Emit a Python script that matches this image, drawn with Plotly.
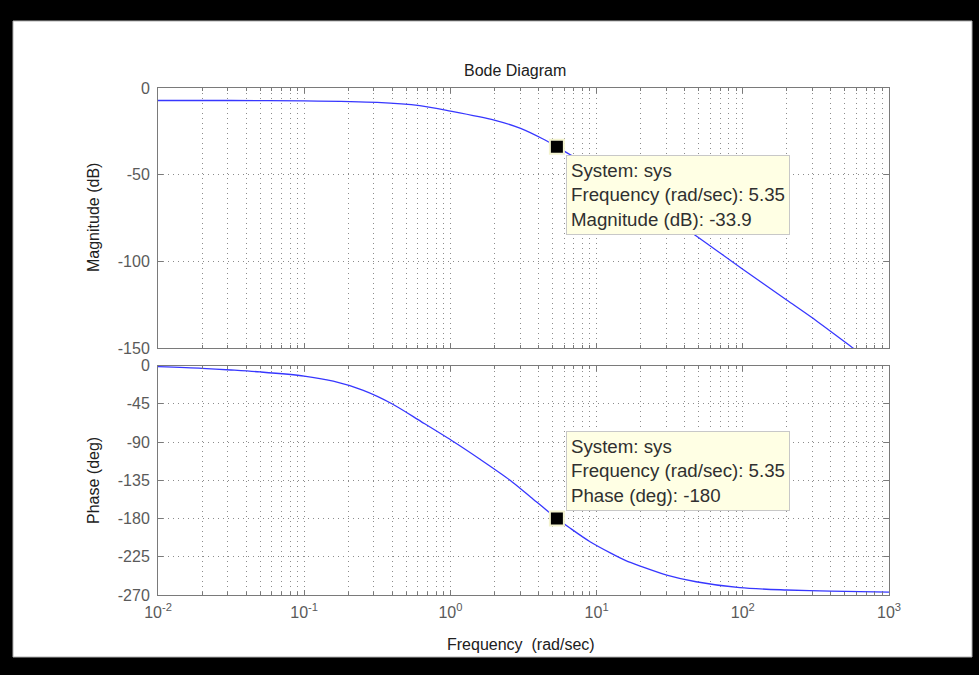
import math
import plotly.graph_objects as go

# ---- data ----
freq = [0.01, 0.0316, 0.1, 0.316, 0.617, 1.0, 1.995, 3.02, 4.27, 5.35, 6.61,
        10.0, 15.85, 25.12, 44.67, 97.72, 199.5, 295.1, 562.3, 1000.0]
mag_db = [-7.2, -7.2, -7.4, -8.3, -10.2, -13.3, -18.5, -23.3, -29.3, -33.9, -38.5,
          -47.0, -58.0, -69.5, -83.5, -104.0, -122.3, -132.3, -149.8, -165.0]

freq_ph = [0.01, 0.02, 0.0316, 0.05, 0.1, 0.158, 0.251, 0.398, 0.631, 1.059,
           1.585, 2.56, 3.548, 5.35, 6.61, 9.02, 12.59, 15.85, 19.95, 30.2,
           47.9, 95.5, 199.5, 398.0, 1000.0]
phase_deg = [-1.4, -3.3, -5.3, -7.6, -12.4, -18.5, -29.0, -45.0, -66.0, -90.0,
             -110.0, -135.0, -155.0, -180.0, -191.5, -207.3, -221.0, -229.5, -236.0, -246.5,
             -254.4, -261.4, -264.1, -265.5, -266.6]

tip_freq = 5.35
tip_mag = -33.9
tip_phase = -180

mag_ticks = [0, -50, -100, -150]
mag_tick_text = ["0", "-50", "-100", "-150"]
phase_ticks = [0, -45, -90, -135, -180, -225, -270]
phase_tick_text = ["0", "-45", "-90", "-135", "-180", "-225", "-270"]
x_major = [0.01, 0.1, 1, 10, 100, 1000]
x_major_text = ["10<sup>-2</sup>", "10<sup>-1</sup>", "10<sup>0</sup>",
                "10<sup>1</sup>", "10<sup>2</sup>", "10<sup>3</sup>"]
x_minor = [d * k for d in [0.01, 0.1, 1, 10, 100] for k in range(2, 10)]

# ---- styling ----
W, H = 979, 675
ML, MR, MT, MB = 158, 90, 88, 80
PW, PH = W - ML - MR, H - MT - MB
def px_x(p):
    return (p - ML) / PW
def px_y(p):
    return (H - MB - p) / PH

LINE = "rgb(55,55,255)"
AXC = "#7a7a7a"
GRIDC = "#8c8c8c"
DOT = "1px,4px"
FONT = "Liberation Sans, Arial, sans-serif"
TICKF = dict(family=FONT, size=16, color="#5a5a5a")

fig = go.Figure()
fig.add_trace(go.Scatter(x=freq, y=mag_db, mode="lines",
                         line=dict(color=LINE, width=1.3, shape="spline", smoothing=0.8),
                         xaxis="x", yaxis="y", showlegend=False, hoverinfo="skip"))
fig.add_trace(go.Scatter(x=freq_ph, y=phase_deg, mode="lines",
                         line=dict(color=LINE, width=1.3, shape="spline", smoothing=0.8),
                         xaxis="x2", yaxis="y2", showlegend=False, hoverinfo="skip"))
tip_marker = dict(symbol="square", size=14, color="black", line=dict(color="#f3f3cf", width=2))
fig.add_trace(go.Scatter(x=[tip_freq], y=[tip_mag], mode="markers", marker=tip_marker,
                         xaxis="x", yaxis="y", showlegend=False, hoverinfo="skip"))
fig.add_trace(go.Scatter(x=[tip_freq], y=[tip_phase], mode="markers", marker=tip_marker,
                         xaxis="x2", yaxis="y2", showlegend=False, hoverinfo="skip"))

xcommon = dict(type="log", range=[-2, 3], ticks="inside", ticklen=5, tickcolor=AXC,
               showline=True, linecolor=AXC, linewidth=1, mirror="ticks",
               showgrid=True, gridcolor=GRIDC, griddash=DOT, gridwidth=1, zeroline=False,
               tickmode="array", tickvals=x_major, ticktext=x_major_text, tickfont=TICKF,
               minor=dict(tickmode="array", tickvals=x_minor, ticks="inside", ticklen=3, tickcolor=AXC,
                          showgrid=True, gridcolor=GRIDC, griddash=DOT, gridwidth=1))
ycommon = dict(ticks="inside", ticklen=5, tickcolor=AXC, showline=True, linecolor=AXC, linewidth=1,
               mirror="ticks", showgrid=True, gridcolor=GRIDC, griddash=DOT, gridwidth=1,
               zeroline=False, tickfont=TICKF, ticklabelstandoff=4, tickmode="array")

top_dom = [px_y(348), 1.0]
bot_dom = [0.0, px_y(365.5)]

fig.update_layout(
    width=W, height=H,
    margin=dict(l=ML, r=MR, t=MT, b=MB),
    paper_bgcolor="black", plot_bgcolor="white",
    xaxis=dict(xcommon, anchor="y", showticklabels=False),
    yaxis=dict(ycommon, domain=top_dom, range=[-150, 0], tickvals=mag_ticks,
               ticktext=mag_tick_text, anchor="x"),
    xaxis2=dict(xcommon, anchor="y2", matches="x", ticklabelstandoff=3),
    yaxis2=dict(ycommon, domain=bot_dom, range=[-270, 0], tickvals=phase_ticks,
                ticktext=phase_tick_text, anchor="x2"),
    shapes=[dict(type="rect", xref="paper", yref="paper", layer="below",
                 x0=px_x(13), x1=px_x(972), y0=px_y(657), y1=px_y(21),
                 fillcolor="white", line=dict(color="#b0b0b0", width=1))],
)

TIPF = dict(family=FONT, size=18.7, color="#303030")
LBLF = dict(family=FONT, size=16, color="#202020")
fig.add_annotation(text="Bode Diagram", xref="paper", yref="paper", x=px_x(515), y=px_y(70),
                   showarrow=False, font=LBLF, xanchor="center", yanchor="middle")
fig.add_annotation(text="Magnitude (dB)", xref="paper", yref="paper", x=px_x(93), y=px_y(218),
                   showarrow=False, font=LBLF, textangle=-90, xanchor="center", yanchor="middle")
fig.add_annotation(text="Phase (deg)", xref="paper", yref="paper", x=px_x(93), y=px_y(481),
                   showarrow=False, font=LBLF, textangle=-90, xanchor="center", yanchor="middle")
fig.add_annotation(text="Frequency  (rad/sec)", xref="paper", yref="paper", x=px_x(521), y=px_y(644),
                   showarrow=False, font=LBLF, xanchor="center", yanchor="middle")

fig.add_annotation(text="System: sys<br>Frequency (rad/sec): %g<br>Magnitude (dB): %g" % (tip_freq, tip_mag),
                   xref="x", yref="y", x=math.log10(tip_freq), y=tip_mag, showarrow=False,
                   xanchor="left", yanchor="top", xshift=9, yshift=-8, align="left",
                   bgcolor="#ffffe4", bordercolor="#c8c8c8", borderwidth=1, borderpad=4, font=TIPF)
fig.add_annotation(text="System: sys<br>Frequency (rad/sec): %g<br>Phase (deg): %g" % (tip_freq, tip_phase),
                   xref="x2", yref="y2", x=math.log10(tip_freq), y=tip_phase, showarrow=False,
                   xanchor="left", yanchor="bottom", xshift=9, yshift=8, align="left",
                   bgcolor="#ffffe4", bordercolor="#c8c8c8", borderwidth=1, borderpad=4, font=TIPF)

fig.write_html("out.html", config={"displayModeBar": False},
               post_script="document.body.style.margin='0';document.body.style.background='black';")
